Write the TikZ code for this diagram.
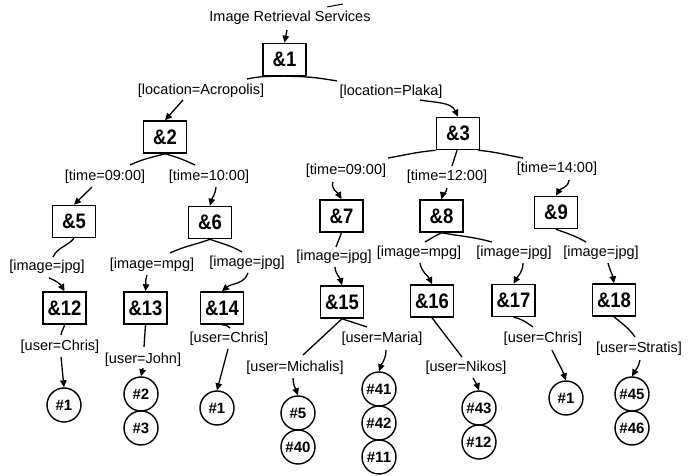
\documentclass[tikz,border=0pt]{standalone}
\usepackage{fontspec}
\setmainfont{Liberation Sans}
\newfontfamily\boxfont{Liberation Sans}[FakeStretch=0.88]
\usetikzlibrary{arrows.meta}
\begin{document}
\begin{tikzpicture}[x=1pt,y=1pt,
  box/.style={draw, line width=1.6pt, minimum width=43pt, minimum height=32pt, inner sep=0pt,
    font=\boxfont\bfseries\fontsize{21}{21}\selectfont},
  circ/.style={draw, circle, line width=1.4pt, minimum size=34pt, inner sep=0pt,
    font=\bfseries\fontsize{15}{15}\selectfont},
  lab/.style={inner sep=0pt, font=\fontsize{14.5}{14.5}\selectfont},
  edge/.style={line width=1.3pt},
  arr/.style={line width=1.3pt, -{Triangle[length=7pt,width=6.5pt]}}]
\useasboundingbox (0,0) rectangle (697,475);

% title
\node[lab] (title) at (290,457) {Image Retrieval Services};
\coordinate (t0) at (287,445);
\coordinate (s1) at (327,468);
\coordinate (s2) at (343,471);
\draw[edge, line width=1pt] (s1) -- (s2);

% boxes
\node[box] (n1) at (284.5,415.5) {\&1};
\node[box] (n2) at (165,338) {\&2};
\node[box] (n3) at (458,341.5) {\&3};
\node[box] (n5) at (74,253.5) {\&5};
\node[box] (n6) at (210,252.5) {\&6};
\node[box] (n7) at (341.5,259) {\&7};
\node[box] (n8) at (441.5,259) {\&8};
\node[box] (n9) at (556,262.5) {\&9};
\node[box] (n12) at (64.5,167) {\&12};
\node[box] (n13) at (145.5,167) {\&13};
\node[box] (n14) at (222,167) {\&14};
\node[box] (n15) at (342,173) {\&15};
\node[box] (n16) at (432,174) {\&16};
\node[box] (n17) at (513.5,174.5) {\&17};
\node[box] (n18) at (614,175) {\&18};

% labels
\node[lab] (la) at (201,384) {[location=Acropolis]};
\node[lab] (lp) at (391,383) {[location=Plaka]};
\node[lab] (l5) at (105,298) {[time=09:00]};
\node[lab] (l6) at (209,298) {[time=10:00]};
\node[lab] (l7) at (346,304) {[time=09:00]};
\node[lab] (l8) at (447,298) {[time=12:00]};
\node[lab] (l9) at (557,306) {[time=14:00]};
\node[lab] (l12) at (47,208) {[image=jpg]};
\node[lab] (l13) at (152,210) {[image=mpg]};
\node[lab] (l14) at (247,212) {[image=jpg]};
\node[lab] (l15) at (334,218) {[image=jpg]};
\node[lab] (l16) at (419,222) {[image=mpg]};
\node[lab] (l17) at (514,222) {[image=jpg]};
\node[lab] (l18) at (601,222) {[image=jpg]};
\node[lab] (u12) at (60,128) {[user=Chris]};
\node[lab] (u13) at (143,115) {[user=John]};
\node[lab] (u14) at (229,136) {[user=Chris]};
\node[lab] (u15a) at (295,107) {[user=Michalis]};
\node[lab] (u15b) at (382,136) {[user=Maria]};
\node[lab] (u16) at (466,107) {[user=Nikos]};
\node[lab] (u17) at (543,136) {[user=Chris]};
\node[lab] (u18) at (639,126) {[user=Stratis]};

% circles
\node[circ] (c12) at (64,70) {\#1};
\node[circ] (c13a) at (141,81) {\#2};
\node[circ] (c13b) at (141,47) {\#3};
\node[circ] (c14) at (217,67) {\#1};
\node[circ] (c15a) at (298,62) {\#5};
\node[circ] (c15b) at (298,28) {\#40};
\node[circ] (c15c) at (379,86) {\#41};
\node[circ] (c15d) at (379,52) {\#42};
\node[circ] (c15e) at (379,18) {\#11};
\node[circ] (c16a) at (479,67) {\#43};
\node[circ] (c16b) at (479,33) {\#12};
\node[circ] (c17) at (566,77) {\#1};
\node[circ] (c18a) at (632,81) {\#45};
\node[circ] (c18b) at (632,47) {\#46};

% free ends of the upper connector parts
\coordinate (a1) at (247,396);
\coordinate (a2) at (337,394);
\coordinate (a5) at (130,310);
\coordinate (a6) at (195,310);
\coordinate (a7) at (388,317);
\coordinate (a8) at (452,309);
\coordinate (a9) at (523,317);
\coordinate (a12) at (53,218);
\coordinate (a13) at (170,222);
\coordinate (a14) at (242,223);
\coordinate (a15) at (336,228);
\coordinate (a16) at (425,233);
\coordinate (a17) at (492,233);
\coordinate (a18) at (586,233);
\coordinate (a19) at (61,140);
\coordinate (a20) at (144,128);
\coordinate (a21) at (230,147);
\coordinate (a22) at (303,120);
\coordinate (a23) at (367,148);
\coordinate (a24) at (462,118);
\coordinate (a25) at (533,148);
\coordinate (a26) at (635,138);

% start points of the arrows below labels
\coordinate (b1) at (183,375);
\coordinate (b2) at (420,375);
\coordinate (b5) at (92,288);
\coordinate (b6) at (216,288);
\coordinate (b7) at (333,293);
\coordinate (b8) at (447,287);
\coordinate (b9) at (569,295);
\coordinate (b12) at (49,197);
\coordinate (b13) at (147,200);
\coordinate (b14) at (248,202);
\coordinate (b15) at (335,208);
\coordinate (b16) at (420,212);
\coordinate (b17) at (523,212);
\coordinate (b18) at (608,212);
\coordinate (b19) at (61,118);
\coordinate (b20) at (143,107);
\coordinate (b21) at (228,126);
\coordinate (b22) at (293,97);
\coordinate (b23) at (386,125);
\coordinate (b24) at (473,97);
\coordinate (b25) at (552,125);
\coordinate (b26) at (640,115);

% title arrow
\draw[arr] (t0) -- (n1.north);

% &1
\draw[edge] (n1.south) to[out=180,in=12] (a1);
\draw[edge] (n1.south) to[out=0,in=170] (a2);
\draw[arr] (b1) -- (n2.north);
\draw[arr] (b2) to[out=-10,in=115] (n3.north);

% &2
\draw[edge] (n2.south) to[out=195,in=25] (a5);
\draw[edge] (n2.south) to[out=-15,in=155] (a6);
\draw[arr] (b5) -- (n5.north);
\draw[arr] (b6) to[out=-95,in=75] (n6.north);

% &3
\draw[edge] (n3.south west) to[out=185,in=10] (a7);
\draw[edge] ([xshift=-1pt]n3.south) -- (a8);
\draw[edge] ([xshift=-2pt]n3.south east) to[out=-5,in=170] (a9);
\draw[arr] (b7) to[out=-110,in=120] (n7.north);
\draw[arr] (b8) to[out=-95,in=75] (n8.north);
\draw[arr] (b9) to[out=-95,in=60] (n9.north);

% &5 &6
\draw[edge] (n5.south) to[out=-130,in=65] (a12);
\draw[arr] (b12) to[out=-20,in=120] (n12.north);
\draw[edge] (n6.south) to[out=200,in=25] (a13);
\draw[edge] (n6.south) to[out=-20,in=150] (a14);
\draw[arr] (b13) to[out=-110,in=85] (n13.north);
\draw[arr] (b14) to[out=-110,in=40] (n14.north);

% &7 &8 &9
\draw[edge] (n7.south) -- (a15);
\draw[arr] (b15) to[out=-85,in=105] (n15.north);
\draw[edge] (n8.south) to[out=205,in=30] (a16);
\draw[edge] (n8.south) to[out=-10,in=165] (a17);
\draw[arr] (b16) to[out=-80,in=115] (n16.north);
\draw[arr] (b17) to[out=-90,in=60] (n17.north);
\draw[edge] (n9.south) to[out=-20,in=150] (a18);
\draw[arr] (b18) to[out=-75,in=100] (n18.north);

% lowest level
\draw[edge] (n12.south) to[out=-100,in=85] (a19);
\draw[arr] (b19) -- (c12.north);
\draw[edge] (n13.south) -- (a20);
\draw[arr] (b20) -- (c13a.north);
\draw[edge] (n14.south) to[out=0,in=135] (a21);
\draw[arr] (b21) -- (c14.north);
\draw[edge] (n15.south) -- (a22);
\draw[edge] (n15.south) -- (a23);
\draw[arr] (b22) to[out=-90,in=110] (c15a.north);
\draw[arr] (b23) to[out=-90,in=70] (c15c.north);
\draw[edge] (n16.south) -- (a24);
\draw[arr] (b24) to[out=-60,in=110] (c16a.north);
\draw[edge] (n17.south) to[out=-10,in=145] (a25);
\draw[arr] (b25) to[out=-65,in=110] (c17.north);
\draw[edge] (n18.south) to[out=-40,in=125] (a26);
\draw[arr] (b26) to[out=-100,in=60] (c18a.north);
\end{tikzpicture}
\end{document}
